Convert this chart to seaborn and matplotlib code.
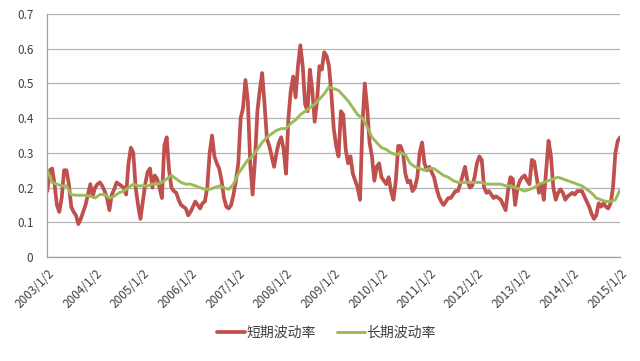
import pandas as pd
import seaborn as sns
import matplotlib.pyplot as plt

# short-term volatility, 20 readings per year, 2003/1/2 .. 2015/1/2
short_vol = [
    0.19, 0.25, 0.255, 0.21, 0.15, 0.13, 0.17, 0.25, 0.25, 0.21, 0.145, 0.13, 0.12, 0.095, 0.11, 0.13, 0.15, 0.18, 0.21, 0.175,
    0.2, 0.21, 0.215, 0.205, 0.19, 0.17, 0.135, 0.18, 0.195, 0.215, 0.21, 0.205, 0.2, 0.18, 0.27, 0.315, 0.3, 0.2, 0.15, 0.11,
    0.16, 0.21, 0.245, 0.255, 0.2, 0.235, 0.225, 0.2, 0.17, 0.32, 0.345, 0.25, 0.2, 0.19, 0.185, 0.165, 0.15, 0.145, 0.14, 0.12,
    0.13, 0.145, 0.16, 0.15, 0.14, 0.155, 0.16, 0.2, 0.3, 0.35, 0.29, 0.27, 0.255, 0.22, 0.17, 0.145, 0.14, 0.15, 0.18, 0.22,
    0.27, 0.4, 0.43, 0.51, 0.45, 0.27, 0.18, 0.28, 0.42, 0.48, 0.53, 0.44, 0.34, 0.32, 0.29, 0.26, 0.3, 0.33, 0.345, 0.31,
    0.24, 0.4, 0.48, 0.52, 0.46, 0.55, 0.61, 0.55, 0.44, 0.42, 0.54, 0.48, 0.39, 0.45, 0.55, 0.54, 0.59, 0.58, 0.55, 0.47,
    0.37, 0.32, 0.29, 0.42, 0.41, 0.31, 0.27, 0.29, 0.24, 0.22, 0.2, 0.165, 0.38, 0.5, 0.43, 0.33, 0.29, 0.22, 0.26, 0.27,
    0.23, 0.22, 0.21, 0.23, 0.19, 0.165, 0.22, 0.32, 0.32, 0.3, 0.24, 0.215, 0.22, 0.19, 0.2, 0.23, 0.3, 0.33, 0.27, 0.25,
    0.26, 0.245, 0.23, 0.2, 0.175, 0.16, 0.15, 0.16, 0.17, 0.17, 0.18, 0.19, 0.19, 0.21, 0.235, 0.26, 0.22, 0.2, 0.205, 0.23,
    0.27, 0.29, 0.28, 0.2, 0.185, 0.19, 0.18, 0.17, 0.175, 0.17, 0.165, 0.15, 0.135, 0.19, 0.23, 0.225, 0.15, 0.2, 0.22, 0.23,
    0.235, 0.22, 0.21, 0.28, 0.275, 0.23, 0.185, 0.21, 0.165, 0.25, 0.335, 0.29, 0.2, 0.165, 0.185, 0.195, 0.185, 0.165, 0.175, 0.18,
    0.185, 0.18, 0.19, 0.19, 0.19, 0.175, 0.16, 0.145, 0.125, 0.11, 0.12, 0.155, 0.145, 0.155, 0.145, 0.14, 0.155, 0.2, 0.3, 0.335,
    0.345,
]

# long-term volatility, 10 readings per year
long_vol = [
    0.25, 0.215, 0.21, 0.205, 0.205, 0.18, 0.178, 0.178, 0.178, 0.175,
    0.17, 0.18, 0.18, 0.17, 0.175, 0.185, 0.19, 0.2, 0.21, 0.205,
    0.205, 0.205, 0.21, 0.21, 0.215, 0.225, 0.235, 0.225, 0.215, 0.21,
    0.21, 0.205, 0.2, 0.195, 0.195, 0.2, 0.205, 0.2, 0.195, 0.21,
    0.24, 0.26, 0.28, 0.29, 0.31, 0.33, 0.345, 0.355, 0.365, 0.37,
    0.37, 0.385, 0.395, 0.41, 0.42, 0.43, 0.44, 0.455, 0.47, 0.49,
    0.485, 0.48, 0.465, 0.45, 0.43, 0.41, 0.4, 0.375, 0.345, 0.33,
    0.315, 0.31, 0.3, 0.295, 0.3, 0.295, 0.27, 0.26, 0.255, 0.25,
    0.255, 0.255, 0.245, 0.235, 0.23, 0.22, 0.215, 0.215, 0.215, 0.215,
    0.215, 0.215, 0.21, 0.21, 0.21, 0.21, 0.205, 0.205, 0.2, 0.195,
    0.19, 0.195, 0.2, 0.21, 0.215, 0.22, 0.225, 0.23, 0.225, 0.22,
    0.215, 0.21, 0.205, 0.195, 0.185, 0.17, 0.165, 0.16, 0.16, 0.165,
    0.195,
]

years = list(range(2003, 2016))
xtick_labels = [f"{y}/1/2" for y in years]
yticks = [0, 0.1, 0.2, 0.3, 0.4, 0.5, 0.6, 0.7]
ytick_labels = ["0", "0.1", "0.2", "0.3", "0.4", "0.5", "0.6", "0.7"]
series_names = ["短期波动率", "长期波动率"]
colors = ["#C0504D", "#9BBB59"]

sns.set_style("white")
plt.rcParams["font.family"] = ["Noto Sans CJK SC", "DejaVu Sans"]

start, end = "2003-01-02", "2015-01-02"
short_df = pd.DataFrame({"date": pd.date_range(start, end, periods=len(short_vol)), "value": short_vol})
long_df = pd.DataFrame({"date": pd.date_range(start, end, periods=len(long_vol)), "value": long_vol})

fig, ax = plt.subplots(figsize=(6.4, 3.61), dpi=100)
fig.subplots_adjust(left=0.074, right=0.969, top=0.961, bottom=0.288)

sns.lineplot(data=short_df, x="date", y="value", color=colors[0], linewidth=2.7, label=series_names[0], ax=ax)
sns.lineplot(data=long_df, x="date", y="value", color=colors[1], linewidth=2.1, label=series_names[1], ax=ax)

ax.set_ylim(0, 0.7)
ax.set_xlim(pd.Timestamp(start), pd.Timestamp(end))
ax.set_yticks(yticks)
ax.set_yticklabels(ytick_labels)
ax.set_xticks([pd.Timestamp(f"{y}-01-02") for y in years])
ax.set_xticklabels(xtick_labels, rotation=45, ha="right", rotation_mode="anchor")
ax.set_xlabel("")
ax.set_ylabel("")

ax.yaxis.grid(True, color="#B4B4B4", linewidth=0.9)
ax.set_axisbelow(True)
for side in ["top", "right"]:
    ax.spines[side].set_visible(False)
for side in ["left", "bottom"]:
    ax.spines[side].set_color("#A0A0A0")
    ax.spines[side].set_linewidth(0.9)
ax.tick_params(axis="both", which="major", direction="out", length=4, width=0.8,
               color="#A0A0A0", labelsize=8.5, labelcolor="#404040", pad=3)
ax.tick_params(axis="y", pad=6)

ax.legend_.remove()
handles, labels = ax.get_legend_handles_labels()
fig.legend(handles, labels, loc="center", bbox_to_anchor=(0.51, 0.078), ncol=2,
           frameon=False, fontsize=10, handlelength=2.0, columnspacing=1.5, handletextpad=0.15,
           labelcolor="#404040")

fig.savefig("out.png", dpi=100)
